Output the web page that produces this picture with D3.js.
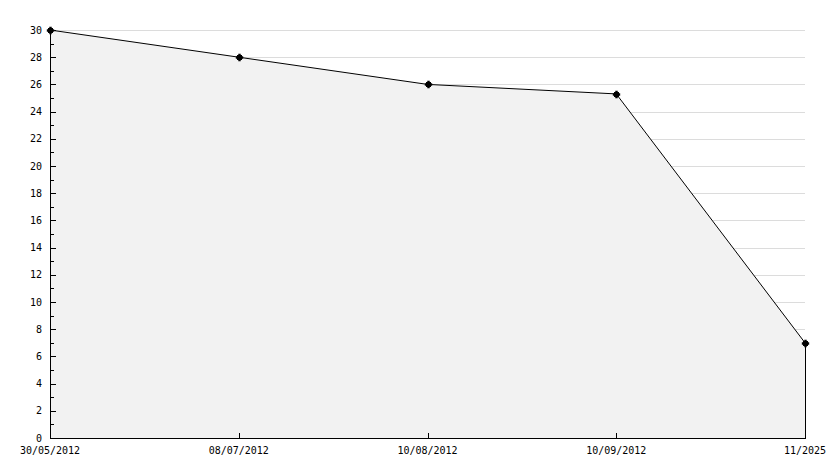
<!DOCTYPE html>
<html>
<head>
<meta charset="utf-8">
<script src="https://cdn.jsdelivr.net/npm/d3@7"></script>
<style>
  html, body { margin: 0; padding: 0; background: #fff; }
</style>
</head>
<body>
<script>
// Chart values
const categories = ['30/05/2012', '08/07/2012', '10/08/2012', '10/09/2012', '11/2025'];
const values = [30, 28, 26, 25.3, 7];
const yTicks = d3.range(0, 31, 2);

const w = 834, h = 468;
const mLeft = 50, mRight = 805, mTop = 30, mBottom = 438;

const svg = d3.select('body').append('svg')
  .attr('width', w)
  .attr('height', h)
  .style('font-family', '"DejaVu Sans Mono", monospace')
  .style('font-size', '10px');

const x = d3.scalePoint()
  .domain(categories)
  .range([mLeft, mRight]);

const y = d3.scaleLinear()
  .domain([0, 30])
  .range([mBottom, mTop]);

// Horizontal grid lines
svg.append('g')
  .selectAll('line')
  .data(yTicks.filter(d => d > 0))
  .join('line')
  .attr('x1', mLeft)
  .attr('x2', mRight)
  .attr('y1', d => Math.round(y(d)) + 0.5)
  .attr('y2', d => Math.round(y(d)) + 0.5)
  .attr('stroke', '#dcdcdc');

// Filled area under the line
const data = categories.map((c, i) => [c, values[i]]);
svg.append('path')
  .datum(data)
  .attr('d', d3.area()
    .x(d => x(d[0]))
    .y0(mBottom)
    .y1(d => y(d[1])))
  .attr('fill', '#f2f2f2');

// Line
svg.append('path')
  .datum(data)
  .attr('d', d3.line()
    .x(d => x(d[0]))
    .y(d => y(d[1])))
  .attr('fill', 'none')
  .attr('stroke', '#000')
  .attr('stroke-width', 1);

// Closing vertical edge at the last point
const lastX = x(categories[categories.length - 1]);
svg.append('line')
  .attr('x1', lastX + 0.5)
  .attr('x2', lastX + 0.5)
  .attr('y1', y(values[values.length - 1]))
  .attr('y2', mBottom)
  .attr('stroke', '#000');

// Y axis (ticks on the inside)
const yAxis = svg.append('g');
yAxis.append('line')
  .attr('x1', mLeft + 0.5).attr('x2', mLeft + 0.5)
  .attr('y1', mTop).attr('y2', mBottom + 0.5)
  .attr('stroke', '#000');
yAxis.selectAll('line.minor')
  .data(d3.range(1, 30, 2))
  .join('line')
  .attr('class', 'minor')
  .attr('x1', mLeft).attr('x2', mLeft + 4)
  .attr('y1', d => Math.round(y(d)) + 0.5)
  .attr('y2', d => Math.round(y(d)) + 0.5)
  .attr('stroke', '#000');
yAxis.selectAll('line.major')
  .data(yTicks)
  .join('line')
  .attr('class', 'major')
  .attr('x1', mLeft).attr('x2', mLeft + 6)
  .attr('y1', d => Math.round(y(d)) + 0.5)
  .attr('y2', d => Math.round(y(d)) + 0.5)
  .attr('stroke', '#000');
yAxis.selectAll('text')
  .data(yTicks)
  .join('text')
  .attr('x', mLeft - 8)
  .attr('y', d => y(d))
  .attr('dy', '0.35em')
  .attr('text-anchor', 'end')
  .text(d => d);

// X axis
const xAxis = svg.append('g');
xAxis.append('line')
  .attr('x1', mLeft).attr('x2', mRight + 1)
  .attr('y1', mBottom + 0.5).attr('y2', mBottom + 0.5)
  .attr('stroke', '#000');
xAxis.selectAll('line.tick')
  .data(categories.slice(1, -1))
  .join('line')
  .attr('class', 'tick')
  .attr('x1', d => Math.round(x(d)) + 0.5)
  .attr('x2', d => Math.round(x(d)) + 0.5)
  .attr('y1', mBottom - 5)
  .attr('y2', mBottom)
  .attr('stroke', '#000');
xAxis.selectAll('text')
  .data(categories)
  .join('text')
  .attr('x', d => x(d))
  .attr('y', mBottom + 12)
  .attr('dy', '0.35em')
  .attr('text-anchor', 'middle')
  .text(d => d);

// Point markers: small filled square with a cross through it
const markers = svg.append('g')
  .selectAll('g')
  .data(data)
  .join('g')
  .attr('transform', d => `translate(${Math.round(x(d[0]))},${Math.round(y(d[1]))})`);
markers.append('rect')
  .attr('x', -2).attr('y', -2)
  .attr('width', 5).attr('height', 5)
  .attr('fill', '#000');
markers.append('path')
  .attr('d', d3.symbol().type(d3.symbolCross).size(30))
  .attr('transform', 'translate(0.5,0.5)')
  .attr('fill', '#000');
</script>
</body>
</html>
